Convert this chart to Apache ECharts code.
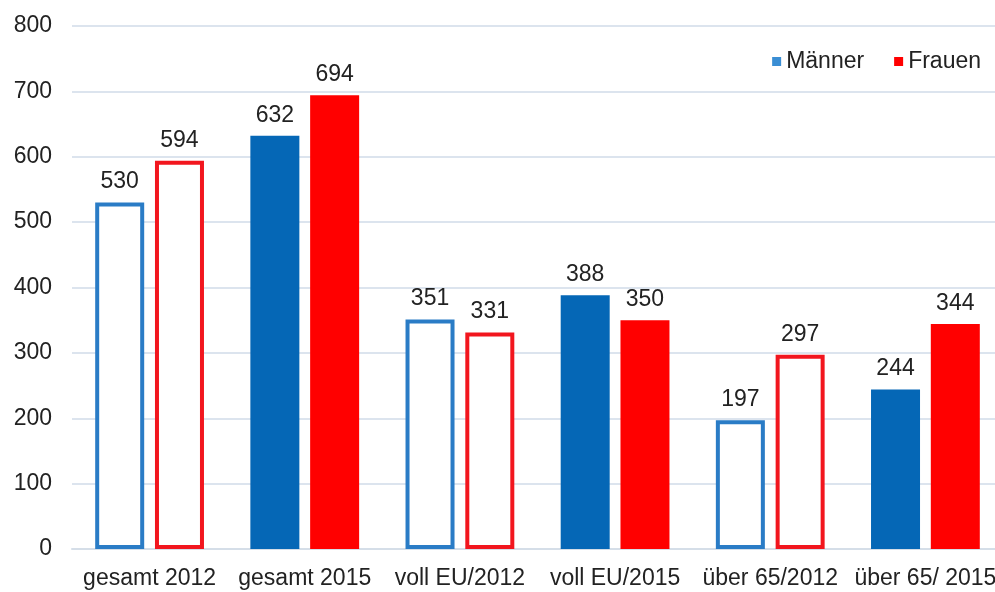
<!DOCTYPE html>
<html><head><meta charset="utf-8">
<script src="https://cdn.jsdelivr.net/npm/echarts@6/dist/echarts.min.js"></script>
<style>html,body{margin:0;padding:0;background:#fff;overflow:hidden}#c{width:1010px;height:592px}</style>
</head><body><div id="c"></div>
<script>
const categories = ['gesamt 2012','gesamt 2015','voll EU/2012','voll EU/2015','über 65/2012','über 65/ 2015'];
const maenner = [530, 632, 351, 388, 197, 244];
const frauen = [594, 694, 331, 350, 297, 344];
const hollow = [true, false, true, false, true, false];
const yTicks = [0, 100, 200, 300, 400, 500, 600, 700, 800];

const BLUE = '#0567B6', BLUE_L = '#2A7CC6', RED = '#FF0000', RED_L = '#F2161E';
function items(vals, solid, line) {
  return vals.map((v, i) => hollow[i]
    ? { value: v, itemStyle: { color: '#ffffff', borderColor: line, borderWidth: 4 } }
    : { value: v, itemStyle: { color: solid } });
}
const font = 'Liberation Sans, Arial, sans-serif';
const TXT = '#222222';
const chart = echarts.init(document.getElementById('c'));
chart.setOption({
  animation: false,
  textStyle: { fontFamily: font },
  grid: { left: 72, right: 7, top: 26, bottom: 43, containLabel: false },
  legend: {
    data: [{ name: 'Männer', itemStyle: { color: '#3A8ED4' } }, { name: 'Frauen', itemStyle: { color: RED } }],
    right: 24, top: 45, itemWidth: 9, itemHeight: 9, itemGap: 30,
    icon: 'rect',
    textStyle: { fontSize: 23, color: TXT, fontFamily: font, padding: [0,0,0,0] }
  },
  xAxis: {
    type: 'category', data: categories,
    axisTick: { show: false },
    axisLine: { lineStyle: { color: '#D5DEE8', width: 2 } },
    axisLabel: { fontSize: 23, color: TXT, margin: 18, interval: 0 }
  },
  yAxis: {
    type: 'value', min: 0, max: 800, interval: 100,
    axisLabel: { fontSize: 23, color: TXT, margin: 20, formatter: v => yTicks.includes(v) ? String(v) : '' },
    splitLine: { lineStyle: { color: '#DCE4EE', width: 2 } },
    axisLine: { show: false }, axisTick: { show: false }
  },
  series: [
    { name: 'Männer', type: 'bar', barWidth: 49, barGap: '22%', data: items(maenner, BLUE, BLUE_L),
      label: { show: true, position: 'top', distance: 9, fontSize: 23, color: TXT } },
    { name: 'Frauen', type: 'bar', barWidth: 49, data: items(frauen, RED, RED_L),
      label: { show: true, position: 'top', distance: 9, fontSize: 23, color: TXT } }
  ]
});
</script></body></html>
